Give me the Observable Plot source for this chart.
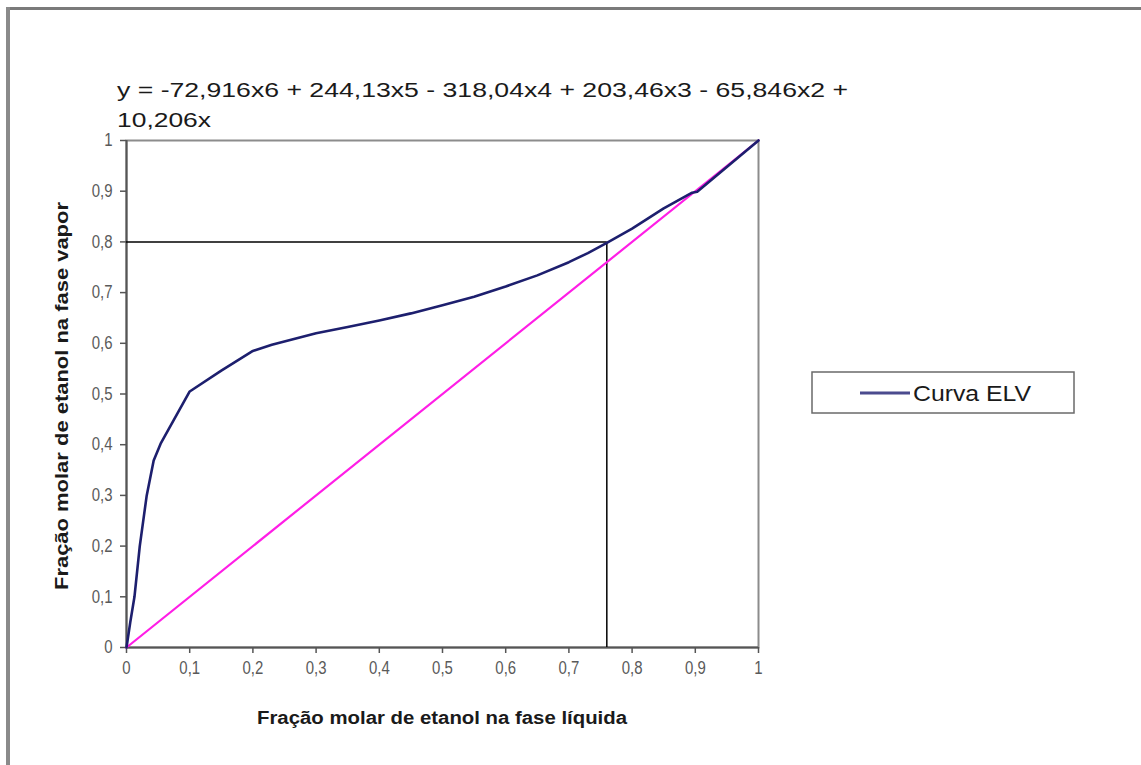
<!DOCTYPE html>
<html>
<head>
<meta charset="utf-8">
<script src="https://cdn.jsdelivr.net/npm/d3@7"></script>
<script src="https://cdn.jsdelivr.net/npm/@observablehq/plot@0.6"></script>
<style>
  html, body { margin: 0; padding: 0; background: #fff; }
  #chart { position: relative; width: 1141px; height: 765px; overflow: hidden; background: #fff; }
  #chart svg { display: block; }
  .frame-top { position: absolute; left: 6px; top: 7px; width: 1141px; height: 3px; background: #7a7a7a; }
  .frame-left { position: absolute; left: 6px; top: 7px; width: 4px; height: 765px; background: #8a8a8a; }
</style>
</head>
<body>
<div id="chart">
  <div class="frame-top"></div>
  <div class="frame-left"></div>
</div>
<script>
// Equilibrium curve for ethanol–water: liquid vs vapour mole fraction
const liquidFraction = [0, 0.006, 0.0126, 0.021, 0.032, 0.043, 0.054, 0.10, 0.15, 0.20, 0.23, 0.30, 0.35, 0.40, 0.45, 0.50, 0.55, 0.60, 0.65, 0.70, 0.73, 0.76, 0.80, 0.85, 0.895, 0.903, 1.0];
const vaporFraction  = [0, 0.050, 0.100, 0.200, 0.300, 0.369, 0.402, 0.505, 0.546, 0.585, 0.597, 0.620, 0.632, 0.645, 0.659, 0.675, 0.692, 0.712, 0.734, 0.760, 0.778, 0.798, 0.826, 0.866, 0.897, 0.899, 1.0];

// 45° reference line (y = x)
const diagonalX = [0, 1];
const diagonalY = [0, 1];

// Reading of the distillate composition on the curve
const readX = 0.76;
const readY = 0.8;

const xTicks = [0, 0.1, 0.2, 0.3, 0.4, 0.5, 0.6, 0.7, 0.8, 0.9, 1];
const yTicks = [0, 0.1, 0.2, 0.3, 0.4, 0.5, 0.6, 0.7, 0.8, 0.9, 1];

const seriesName = "Curva ELV";
const xLabel = "Fração molar de etanol na fase líquida";
const yLabel = "Fração molar de etanol na fase vapor";
const equationLines = [
  "y = -72,916x6 + 244,13x5 - 318,04x4 + 203,46x3 - 65,846x2 +",
  "10,206x"
];

const curve = liquidFraction.map((x, i) => ({x, y: vaporFraction[i]}));
const diagonal = diagonalX.map((x, i) => ({x, y: diagonalY[i]}));

const ptBR = d3.formatLocale({decimal: ",", thousands: ".", grouping: [3], currency: ["", ""]});
const fmt = ptBR.format("~g");

const W = 1141, H = 765;
const M = {left: 126, right: 383, top: 140, bottom: 118};
const FONT = "'Liberation Sans', Arial, sans-serif";

const plot = Plot.plot({
  width: W,
  height: H,
  marginLeft: M.left,
  marginRight: M.right,
  marginTop: M.top,
  marginBottom: M.bottom,
  style: {fontFamily: FONT, fontSize: "18px", color: "#555", background: "transparent", overflow: "visible"},
  x: {domain: [0, 1], label: null},
  y: {domain: [0, 1], label: null},
  marks: [
    Plot.frame({stroke: "#8c8c8c", strokeWidth: 2}),
    Plot.axisX(xTicks, {tickSize: 6, tickPadding: 8, tickFormat: fmt, stroke: "#555", strokeWidth: 1.5, fill: "#5a5a5a", label: null}),
    Plot.axisY(yTicks, {tickSize: 6, tickPadding: 8, tickFormat: fmt, stroke: "#555", strokeWidth: 1.5, fill: "#5a5a5a", label: null}),
    Plot.ruleX([0], {stroke: "#555", strokeWidth: 2}),
    Plot.ruleY([0], {stroke: "#555", strokeWidth: 2}),
    // reading lines
    Plot.ruleY([readY], {x1: 0, x2: readX, stroke: "#000", strokeWidth: 1.5}),
    Plot.ruleX([readX], {y1: 0, y2: readY, stroke: "#000", strokeWidth: 1.5}),
    // y = x
    Plot.line(diagonal, {x: "x", y: "y", stroke: "#ff1ee6", strokeWidth: 2.2}),
    // equilibrium curve
    Plot.line(curve, {x: "x", y: "y", stroke: "#1d1f6e", strokeWidth: 2.6, strokeLinejoin: "round"})
  ]
});

const chart = document.getElementById("chart");
chart.insertBefore(plot, chart.firstChild);

const svg = d3.select(plot);
// Tall, narrow tick numerals
svg.selectAll('g[aria-label="x-axis tick label"] text, g[aria-label="y-axis tick label"] text')
  .each(function () {
    const w = this.getComputedTextLength();
    if (w > 0) {
      d3.select(this)
        .attr("textLength", w * 0.83)
        .attr("lengthAdjust", "spacingAndGlyphs");
    }
  });

// Annotations: trend-line equation, axis titles and legend
const ann = svg.append("g")
  .attr("font-family", FONT)
  .attr("text-anchor", "start");

ann.selectAll("text.eq").data(equationLines).join("text")
  .attr("class", "eq")
  .attr("x", 117)
  .attr("y", (d, i) => 97 + i * 30)
  .attr("font-size", 20)
  .attr("fill", "#1a1a1a")
  .attr("text-anchor", "start")
  .attr("textLength", (d, i) => i === 0 ? 731 : 94)
  .attr("lengthAdjust", "spacingAndGlyphs")
  .text(d => d);

ann.append("text")
  .attr("x", 442).attr("y", 724)
  .attr("text-anchor", "middle")
  .attr("font-size", 18).attr("font-weight", "bold").attr("fill", "#1a1a1a")
  .attr("textLength", 370).attr("lengthAdjust", "spacingAndGlyphs")
  .text(xLabel);

ann.append("text")
  .attr("transform", "translate(68,396) rotate(-90)")
  .attr("text-anchor", "middle")
  .attr("font-size", 18).attr("font-weight", "bold").attr("fill", "#1a1a1a")
  .attr("textLength", 388).attr("lengthAdjust", "spacingAndGlyphs")
  .text(yLabel);

const legend = ann.append("g");
legend.append("rect")
  .attr("x", 812).attr("y", 372).attr("width", 262).attr("height", 41)
  .attr("fill", "#fff").attr("stroke", "#6a6a6a").attr("stroke-width", 1.5);
legend.append("line")
  .attr("x1", 860).attr("x2", 910).attr("y1", 393).attr("y2", 393)
  .attr("stroke", "#4b4b8e").attr("stroke-width", 3);
legend.append("text")
  .attr("x", 913).attr("y", 401)
  .attr("text-anchor", "start")
  .attr("font-size", 22).attr("fill", "#1a1a1a")
  .attr("textLength", 118).attr("lengthAdjust", "spacingAndGlyphs")
  .text(seriesName);
</script>
</body>
</html>
